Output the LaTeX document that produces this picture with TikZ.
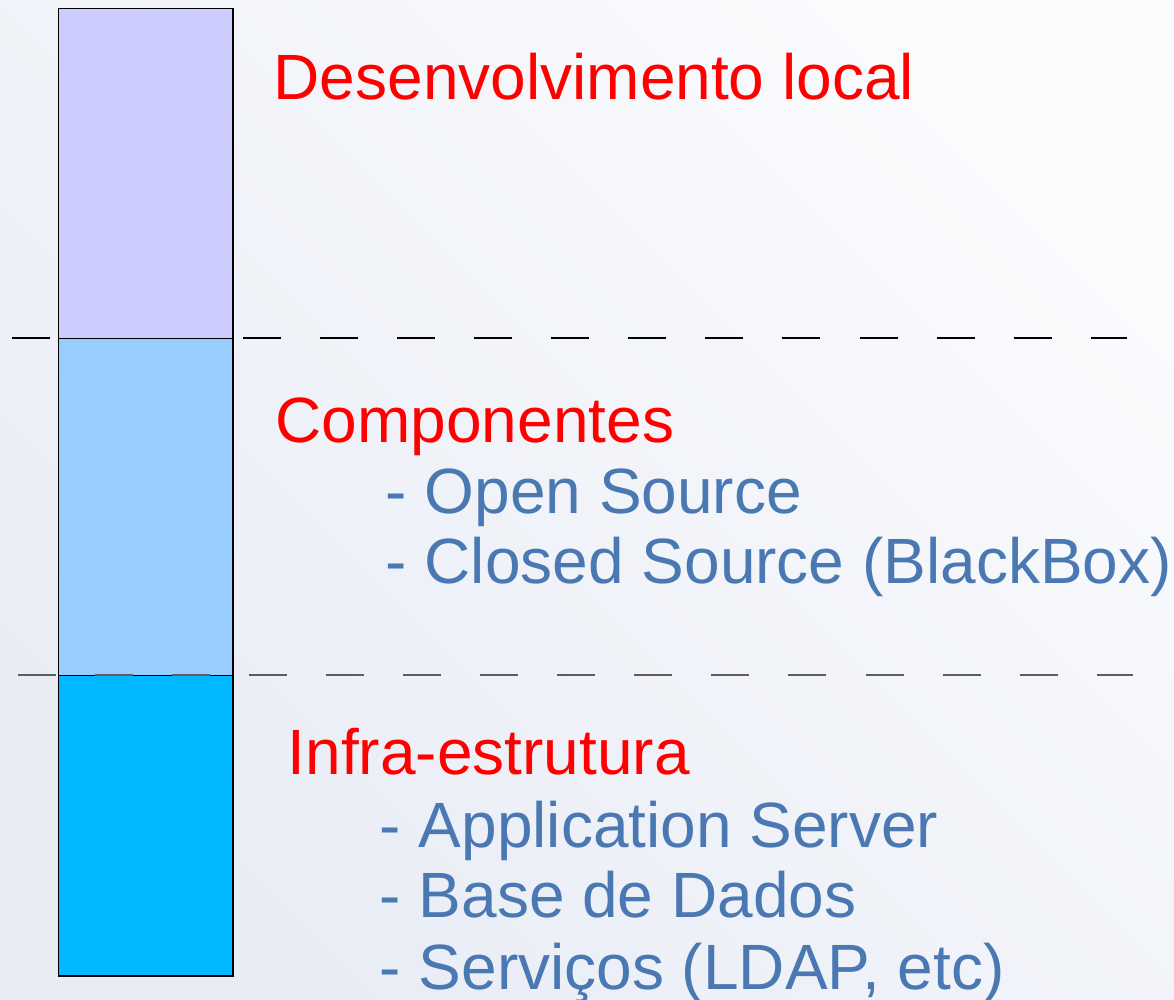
\documentclass[tikz,border=0pt]{standalone}
\usepackage{fontspec}
\setmainfont{Liberation Sans}
\usetikzlibrary{
    positioning,
    calc,
}

\definecolor{bgdark}{HTML}{E8ECF5}
\definecolor{bglight}{HTML}{FAFBFD}
\definecolor{localfill}{HTML}{CCCCFF}
\definecolor{compfill}{HTML}{99CCFF}
\definecolor{infrafill}{HTML}{00B8FF}
\definecolor{itemblue}{HTML}{4A78B2}
\definecolor{divgrey}{HTML}{5E5E5E}

\begin{document}
\begin{tikzpicture}[
    x=0.01cm, y=-0.01cm,
    layer/.style={draw=black, line width=0.4pt, anchor=north west, inner sep=0pt, minimum width=1.74cm},
    title/.style={anchor=base west, inner sep=0pt, text=red, font=\fontsize{18.2}{21}\selectfont},
    item/.style={anchor=base west, inner sep=0pt, text=itemblue, font=\fontsize{18.2}{21}\selectfont},
    divider/.style={line width=0.4pt, dash pattern=on 0.38cm off 0.39cm},
    ]

% background
\useasboundingbox (0,0) rectangle (1174,999);
\fill[shading=axis, top color=bglight, bottom color=bgdark, shading angle=-45]
    (0,0) rectangle (1174,999);

% first divider sits behind the layers
\coordinate (div1a) at (12,338);
\coordinate (div1b) at (1127,338);
\draw[divider, black] (div1a) -- (div1b);

% layers
\node[layer, fill=localfill, minimum height=3.30cm] at (58,8) (local) {};
\node[layer, fill=compfill, minimum height=3.37cm] at (58,338) (comp) {};
\node[layer, fill=infrafill, minimum height=3.00cm] at (58,675) (infra) {};

% second divider
\coordinate (div2a) at (18,675);
\coordinate (div2b) at (1133,675);
\draw[divider, divgrey] (div2a) -- (div2b);

% texts
\node[title] at (273,99) (localtitle) {Desenvolvimento local};

\node[title] at (275,442) (comptitle) {Componentes};
\node[item] at (385,513) (open) {- Open Source};
\node[item] at (385,583) (closed) {- Closed Source (BlackBox)};

\node[title] at (287,774) (infratitle) {Infra-estrutura};
\node[item] at (379,847) (appserver) {- Application Server};
\node[item] at (379,917) (database) {- Base de Dados};
\node[item] at (379,989) (services) {- Serviços (LDAP, etc)};

\end{tikzpicture}
\end{document}
